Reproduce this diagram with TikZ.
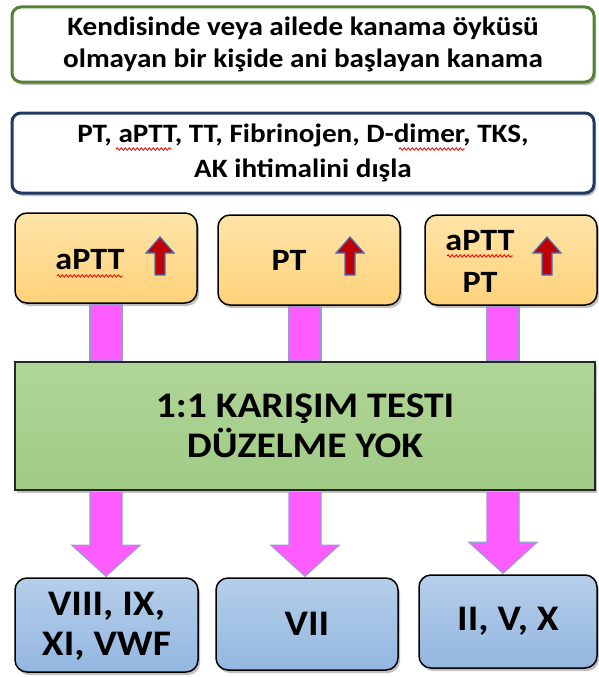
\documentclass[tikz,border=0pt]{standalone}
\usepackage{fontspec}
\setmainfont{Carlito}[FakeStretch=1.1]
\usetikzlibrary{shadows,calc,decorations.pathmorphing}
\definecolor{gborder}{HTML}{548235}
\definecolor{nborder}{HTML}{203864}
\definecolor{otop}{HTML}{FFE4A8}
\definecolor{obot}{HTML}{FFD27A}
\definecolor{mtop}{HTML}{B0D598}
\definecolor{mbot}{HTML}{9FCB84}
\definecolor{btop}{HTML}{B6CEEA}
\definecolor{bbot}{HTML}{93B7E0}
\definecolor{pinkc}{HTML}{FF5CFF}
\definecolor{lav}{HTML}{9A9AD0}
\definecolor{arrred}{HTML}{C00000}
\definecolor{arrblue}{HTML}{4472C4}
\tikzset{
  shad/.style={drop shadow={shadow xshift=2pt,shadow yshift=-3pt,opacity=0.35,fill=black!70}},
  topbox/.style={shad,draw=gborder,line width=3pt,fill=white,rounded corners=9pt},
  secbox/.style={shad,draw=nborder,line width=3pt,fill=white,rounded corners=9pt},
  obox/.style={shad,draw=black,line width=1.5pt,top color=otop,bottom color=obot,rounded corners=12pt},
  mixbox/.style={shad,draw=black!85,line width=1.5pt,top color=mtop,bottom color=mbot},
  bbox/.style={shad,draw=black,line width=1.5pt,top color=btop,bottom color=bbot,rounded corners=12pt},
  pinkbar/.style={fill=pinkc,draw=lav,line width=1.2pt,line join=miter},
  lbl/.style={font=\bfseries\fontsize{31}{42}\selectfont,align=center,inner sep=0pt},
  biglbl/.style={font=\bfseries\fontsize{36}{40}\selectfont,align=center,inner sep=0pt},
  squig/.style={draw=red!90!black,line width=0.8pt,decorate,decoration={snake,amplitude=1.2pt,segment length=4pt}},
  upa/.pic={\draw[fill=arrred,draw=arrblue,line width=1.2pt,line join=miter]
     (-5,19) -- (-5,-3) -- (-14,-3) -- (0,-19) -- (14,-3) -- (5,-3) -- (5,19) -- cycle;}
}
\begin{document}
\begin{tikzpicture}[x=1pt,y=-1pt]
\useasboundingbox[fill=white] (0,0) rectangle (599,677);
% top boxes
\node[topbox,minimum width=582pt,minimum height=75pt] (t1) at (303,44.5) {};
\node[align=center,font=\bfseries\fontsize{26.5}{32}\selectfont] (t1l) at (t1.center) {Kendisinde veya ailede kanama öyküsü\\olmayan bir kişide ani başlayan kanama};
\node[secbox,minimum width=582pt,minimum height=80pt] (t2) at (303,153) {};
\node[align=center,font=\bfseries\fontsize{26.5}{35}\selectfont] (t2l) at (t2.center) {PT, aPTT, TT, Fibrinojen, D-dimer, TKS,\\AK ihtimalini dışla};
% orange boxes
\node[obox,minimum width=182pt,minimum height=90pt] (o1) at (106,258) {};
\node[obox,minimum width=182pt,minimum height=90pt] (o2) at (309,260) {};
\node[obox,minimum width=172pt,minimum height=90pt] (o3) at (511,260) {};
\node[lbl] (o1l) at (90,260) {aPTT};
\node[lbl] (o2l) at (289,260) {PT};
\node[lbl] (o3l) at (480,261) {aPTT\\PT};
\pic at (160,256) {upa};
\pic at (350,256) {upa};
\pic at (547,256) {upa};
% spell-check underlines
\draw[squig] (57,276) -- (123,276);
\draw[squig] (447,256) -- (513,256);
\draw[squig] (116,149) -- (172,149);
\draw[squig] (399,149) -- (465,149);
% mixing box
\node[mixbox,minimum width=580pt,minimum height=128pt] (mix) at (305,426) {};
\node[biglbl] (mixl) at (mix.center) {1:1 KARIŞIM TESTI\\DÜZELME YOK};
% columns
\coordinate (c1) at (106,0);
\coordinate (c2) at (305,0);
\coordinate (c3) at (503,0);
% bottom boxes
\node[bbox,minimum width=183pt,minimum height=94pt] (b1) at (106.5,625) {};
\node[bbox,minimum width=182pt,minimum height=92pt] (b2) at (307,624) {};
\node[bbox,minimum width=178pt,minimum height=93pt] (b3) at (508,621.5) {};
\node[biglbl] (b1l) at (106.5,626) {VIII, IX,\\XI, VWF};
\node[biglbl] (b2l) at (b2.center) {VII};
\node[biglbl] (b3l) at (b3.center) {II, V, X};
% pink bars
\foreach \o/\c in {o1/c1,o2/c2,o3/c3}{
  \draw[pinkbar] ($(\o.south -| \c)+(-16,1)$) rectangle ($(mix.north -| \c)+(16,-1)$);
}
% pink arrows
\foreach \b/\c in {b1/c1,b2/c2,b3/c3}{
  \draw[pinkbar] ($(mix.south -| \c)+(-16,1)$) -- ($(\b.north -| \c)+(-16,-32)$) -- ($(\b.north -| \c)+(-34,-32)$)
     -- ($(\b.north -| \c)+(0,-1)$) -- ($(\b.north -| \c)+(34,-32)$) -- ($(\b.north -| \c)+(16,-32)$) -- ($(mix.south -| \c)+(16,1)$);
}
\end{tikzpicture}
\end{document}
